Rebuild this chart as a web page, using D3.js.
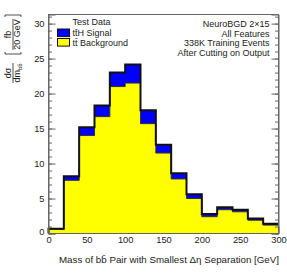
<!DOCTYPE html>
<html><head><meta charset="utf-8">
<script src="https://cdn.jsdelivr.net/npm/d3@7"></script>
<style>body{margin:0;background:#fff}svg{display:block}text{font-family:"Liberation Sans",Arial,sans-serif}</style>
</head><body>
<script>
const binLow = [0,20,40,60,80,100,120,140,160,180,200,220,240,260,280];
const binWidth = 20;
const background = [0.62,7.6,14.0,16.7,21.0,21.5,15.7,11.5,7.8,5.0,2.4,3.4,3.1,1.9,1.2];
const signal = [0.05,0.6,1.2,1.6,2.0,2.65,1.9,1.2,0.8,0.6,0.4,0.36,0.3,0.24,0.18];
const xTicks = [0,50,100,150,200,250,300];
const yTicks = [0,5,10,15,20,25,30];
const legendItems = ["tt\u0304H Signal","tt\u0304 Background"];
const infoLines = ["NeuroBGD 2\u00d715","All Features","338K Training Events","After Cutting on Output"];

const W=287,H=273;
const svg=d3.select("body").append("svg").attr("width",W).attr("height",H);
const x=d3.scaleLinear([0,300],[48.5,278.5]);
const y=d3.scaleLinear([0,31.3],[233.5,14.5]);
const axisCol="#666", txtCol="#222";

const total=background.map((b,i)=>b+signal[i]);
function stepPts(vals){const p=binLow.map((l,i)=>[l,vals[i]]);p.push([binLow[binLow.length-1]+binWidth,vals[vals.length-1]]);return p;}
const area=d3.area().x(d=>x(d[0])).y0(y(0)).y1(d=>y(d[1])).curve(d3.curveStepAfter);
const line=d3.line().x(d=>x(d[0])).y(d=>y(d[1])).curve(d3.curveStepAfter);

// x ticks (under fill)
const gx=svg.append("g").attr("transform",`translate(0,${y(0)})`)
  .call(d3.axisBottom(x).tickValues(xTicks).tickSize(-7).tickPadding(3).tickFormat(d3.format("d")));
gx.select(".domain").remove();
gx.selectAll("line").attr("stroke",axisCol);
gx.selectAll("text").attr("font-size",9.3).attr("fill",txtCol).attr("font-family","Liberation Sans, Arial, sans-serif");

svg.append("path").attr("d",area(stepPts(total))).attr("fill","#0000ff");
svg.append("path").attr("d",area(stepPts(background))).attr("fill","#ffff00");
svg.append("path").attr("d",line(stepPts(background))).attr("fill","none").attr("stroke","#333").attr("stroke-width",1);
const totPts=stepPts(total);
svg.append("path").attr("d","M"+x(0)+","+y(0)+"L"+line(totPts).slice(1)).attr("fill","none").attr("stroke","#111").attr("stroke-width",2).attr("stroke-linejoin","miter");

// frame
svg.append("rect").attr("x",x(0)).attr("y",y(31.3)).attr("width",x(300)-x(0)).attr("height",y(0)-y(31.3))
  .attr("fill","none").attr("stroke",axisCol).attr("stroke-width",1);

// y axes
const minorY=d3.range(0,31.01,1);
const gyl=svg.append("g").attr("transform",`translate(${x(0)},0)`)
  .call(d3.axisLeft(y).tickValues(yTicks).tickSize(-7).tickPadding(4).tickFormat(d3.format("d")));
gyl.select(".domain").attr("stroke",axisCol);
gyl.selectAll("line").attr("stroke",axisCol);
gyl.selectAll("text").attr("font-size",9.3).attr("fill",txtCol).attr("font-family","Liberation Sans, Arial, sans-serif");
gyl.selectAll(".tick").filter(d=>d===0).select("text").attr("dy","0.1em");
const gylm=svg.append("g").attr("transform",`translate(${x(0)},0)`)
  .call(d3.axisLeft(y).tickValues(minorY).tickSize(-3.5).tickFormat(""));
gylm.select(".domain").remove();gylm.selectAll("line").attr("stroke",axisCol);
const gyr=svg.append("g").attr("transform",`translate(${x(300)},0)`)
  .call(d3.axisRight(y).tickValues(yTicks).tickSize(-7).tickFormat(""));
gyr.select(".domain").attr("stroke",axisCol);gyr.selectAll("line").attr("stroke",axisCol);
const gyrm=svg.append("g").attr("transform",`translate(${x(300)},0)`)
  .call(d3.axisRight(y).tickValues(minorY).tickSize(-3.5).tickFormat(""));
gyrm.select(".domain").remove();gyrm.selectAll("line").attr("stroke",axisCol);

// legend
svg.append("text").attr("x",72.5).attr("y",25).attr("font-size",9).attr("fill",txtCol).text("Test Data");
const legCols=["#0000ff","#ffff00"];
legendItems.forEach((t,i)=>{
  const cy=32.8+i*9.5;
  svg.append("rect").attr("x",57.5).attr("y",cy-3.8).attr("width",12).attr("height",7.6).attr("fill",legCols[i]).attr("stroke","#111").attr("stroke-width",1);
  svg.append("text").attr("x",72.5).attr("y",cy+3.2).attr("font-size",9).attr("fill",txtCol).text(t);
});

// info text
infoLines.forEach((t,i)=>{
  svg.append("text").attr("x",269.5).attr("y",27.3+i*9.4).attr("text-anchor","end").attr("font-size",9).attr("fill",txtCol).text(t);
});

// x title
svg.append("text").attr("x",279).attr("y",262.5).attr("text-anchor","end").attr("font-size",9.8).attr("fill",txtCol)
  .attr("textLength",220).attr("lengthAdjust","spacingAndGlyphs")
  .text("Mass of bb\u0304 Pair with Smallest \u0394\u03b7 Separation [GeV]");

// y title
const yt=svg.append("g").attr("transform","translate(12.5,83) rotate(-90)").attr("fill",txtCol);
yt.append("text").attr("x",10).attr("y",-2).attr("text-anchor","middle").attr("font-size",9).text("d\u03c3");
const den=yt.append("text").attr("x",10).attr("y",7.5).attr("text-anchor","middle").attr("font-size",9);
den.append("tspan").text("dm");
den.append("tspan").attr("font-size",6).attr("dy",2).text("bb\u0304");
yt.append("line").attr("x1",0).attr("x2",20).attr("y1",0.5).attr("y2",0.5).attr("stroke",txtCol).attr("stroke-width",0.8);
yt.append("path").attr("d","M29,-7.5V8.5M29,-7.5H31M29,8.5H31M68,-7.5V8.5M68,-7.5H66M68,8.5H66").attr("fill","none").attr("stroke",txtCol).attr("stroke-width",0.8);
yt.append("text").attr("x",48.5).attr("y",-2).attr("text-anchor","middle").attr("font-size",9).text("fb");
yt.append("text").attr("x",48.5).attr("y",7.5).attr("text-anchor","middle").attr("font-size",9).text("20 GeV");
yt.append("line").attr("x1",33).attr("x2",64).attr("y1",0.5).attr("y2",0.5).attr("stroke",txtCol).attr("stroke-width",0.8);
</script>
</body></html>
